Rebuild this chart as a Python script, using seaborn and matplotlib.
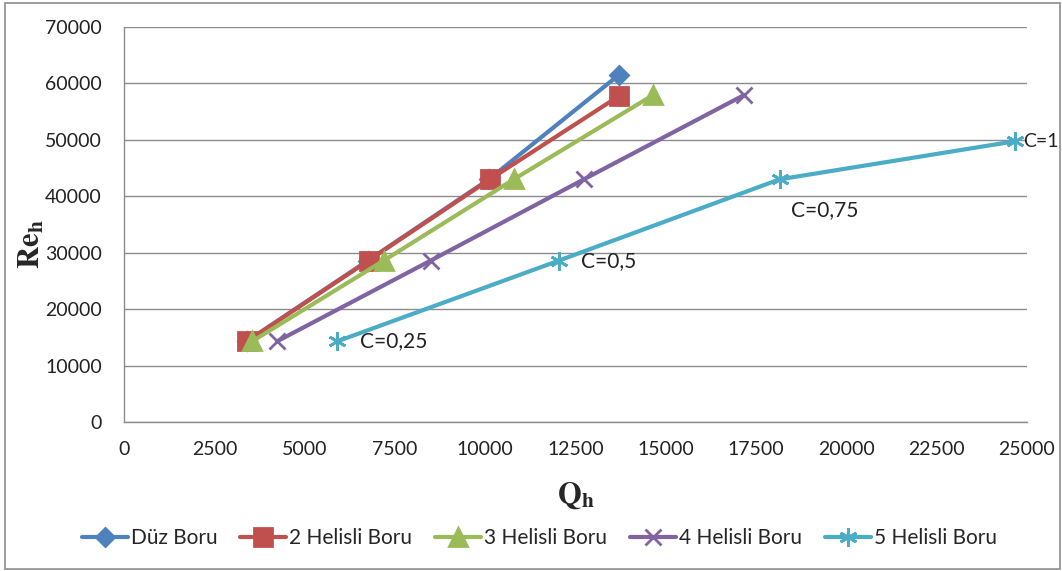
import seaborn as sns
import matplotlib.pyplot as plt
import matplotlib.patches as mpatches
import numpy as np
import pandas as pd

# Data
series = ['Düz Boru', '2 Helisli Boru', '3 Helisli Boru', '4 Helisli Boru', '5 Helisli Boru']
re_h = [14300, 28600, 43000]
q_duz = [3400, 6750, 10100, 13700]
q_2hel = [3410, 6770, 10130, 13700]
q_3hel = [3550, 7190, 10790, 14650]
q_4hel = [4240, 8490, 12730, 17170]
q_5hel = [5910, 12040, 18150, 24670]
re_last = [61500, 57750, 57950, 57950, 49750]
c_labels = ['C=0,25', 'C=0,5', 'C=0,75', 'C=1']

q_all = [q_duz, q_2hel, q_3hel, q_4hel, q_5hel]
rows = []
for name, q, last in zip(series, q_all, re_last):
    ys = re_h + [last]
    for xv, yv in zip(q, ys):
        rows.append({'Q': xv, 'Re': yv, 'seri': name})
df = pd.DataFrame(rows)

colors = ['#4F81BD', '#C0504D', '#9BBB59', '#8064A2', '#4BACC6']
markers = ['D', 's', '^', 'x', (6, 2, 0)]
sizes = [9, 13, 13, 12, 13]

sns.set_style('white')
plt.rcParams['font.family'] = ['Lato', 'DejaVu Sans']
plt.rcParams['mathtext.fontset'] = 'stix'

fig = plt.figure(figsize=(10.62, 5.71), dpi=100)
ax = fig.add_axes([0.1168, 0.261, 0.8502, 0.6917])

# one call per series (filled and line markers can't be mixed in one call)
for name, c, m, s in zip(series, colors, markers, sizes):
    sub = df[df['seri'] == name]
    sns.lineplot(data=sub, x='Q', y='Re', color=c, marker=m, markersize=s,
                 markeredgewidth=2, markeredgecolor=c, markerfacecolor=c,
                 linewidth=3, sort=False, ax=ax, label=name)
ax.get_legend().remove()

# C labels on the last series
offsets = [(16, 0), (16, 0), (8, -15), (6, 0)]
for xv, yv, lab, off in zip(q_5hel, re_h + [re_last[4]], c_labels, offsets):
    ax.annotate(lab, (xv, yv), textcoords='offset points', xytext=off,
                fontsize=15 if lab != 'C=1' else 14, color='#222222',
                va='center' if off[1] == 0 else 'top', ha='left')

ax.set_xlim(0, 25000)
ax.set_ylim(0, 70000)
ax.set_xticks(np.arange(0, 25001, 2500))
ax.set_yticks(np.arange(0, 70001, 10000))
ax.yaxis.grid(True, color='#8c8c8c', linewidth=1)
ax.xaxis.grid(False)
for sp in ['top', 'right']:
    ax.spines[sp].set_visible(False)
for sp in ['left', 'bottom']:
    ax.spines[sp].set_color('#8c8c8c')
    ax.spines[sp].set_linewidth(1)
ax.tick_params(axis='y', length=4, color='#8c8c8c', labelsize=14, pad=12, labelcolor='#222222')
ax.tick_params(axis='x', length=0, labelsize=14, pad=14, labelcolor='#222222')

ax.set_xlabel(r'$\mathbf{Q_h}$', fontsize=22, labelpad=16)
ax.set_ylabel(r'$\mathbf{Re_h}$', fontsize=22)
ax.yaxis.set_label_coords(-0.086, 0.45)

handles = [plt.Line2D([], [], color=c, marker=m, markersize=s, linewidth=3,
                      markeredgewidth=2, markerfacecolor=c, markeredgecolor=c)
           for c, m, s in zip(colors, markers, sizes)]
fig.legend(handles, series, loc='center', bbox_to_anchor=(0.508, 0.058), ncol=5,
           frameon=False, fontsize=15, handlelength=2.2, handletextpad=0.15,
           columnspacing=1.1)

fig.patches.append(mpatches.Rectangle((0.005, 0.004), 0.993, 0.99, transform=fig.transFigure,
                                      fill=False, edgecolor='#8c8c8c', linewidth=1.2))

plt.savefig('out.png', dpi=100)
